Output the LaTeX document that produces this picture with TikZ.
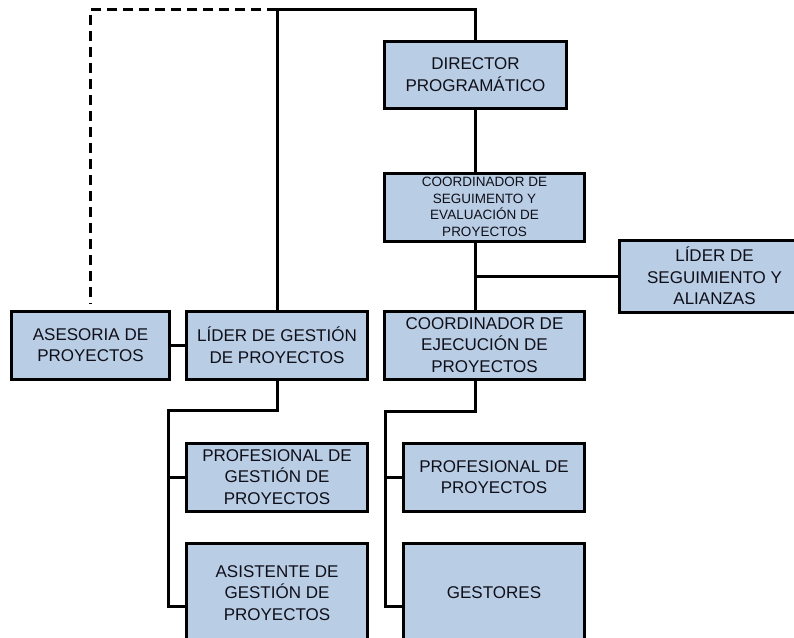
\documentclass[tikz,border=0pt]{standalone}
\usepackage{fontspec}
\setmainfont{Liberation Sans}
\definecolor{boxblue}{RGB}{185,205,229}
\definecolor{boxtext}{RGB}{15,15,25}

\begin{document}
\begin{tikzpicture}[x=1pt,y=-1pt,line width=3pt,
  cargo/.style={draw,fill=boxblue,text=boxtext,align=center,inner sep=0pt,
    font=\fontsize{17}{21.5}\selectfont},
  cargochico/.style={cargo,font=\fontsize{13.5}{16.5}\selectfont}]

\useasboundingbox (0,0) rectangle (794,637);
\clip (0,0) rectangle (794,637);

\node[cargo,minimum width=182,minimum height=67] (dir) at (475.5,74.5) {DIRECTOR\\PROGRAMÁTICO};
\node[cargochico,minimum width=200,minimum height=68] (cseg) at (484.5,207) {COORDINADOR DE\\SEGUIMENTO Y\\EVALUACIÓN DE\\PROYECTOS};
\node[cargo,minimum width=191,minimum height=72] (lseg) at (714.5,276) {LÍDER DE\\SEGUIMIENTO Y\\ALIANZAS};

\node[cargo,minimum width=158,minimum height=68] (ases) at (90.5,345) {ASESORIA DE\\PROYECTOS};
\node[cargo,minimum width=181,minimum height=68] (lgest) at (277,345) {LÍDER DE GESTIÓN\\DE PROYECTOS};
\node[cargo,minimum width=200,minimum height=68] (cejec) at (484.5,345) {COORDINADOR DE\\EJECUCIÓN DE\\PROYECTOS};

\node[cargo,minimum width=181,minimum height=68] (profg) at (277,477) {PROFESIONAL DE\\GESTIÓN DE\\PROYECTOS};
\node[cargo,minimum width=181,minimum height=100] (asist) at (277,593) {ASISTENTE DE\\GESTIÓN DE\\PROYECTOS};
\node[cargo,minimum width=181,minimum height=68] (profp) at (494,477) {PROFESIONAL DE\\PROYECTOS};
\node[cargo,minimum width=181,minimum height=100] (gest) at (494,593) {GESTORES};

\draw (dir.north) -- (dir.north |- 0,9) -| (lgest.north);
\draw[dash pattern=on 10pt off 6pt,shorten >=6pt] (lgest.north |- 0,9) -| (ases.north);

\draw (dir.south) -- (dir.south |- cseg.north);
\draw (dir.south |- cseg.south) -- (dir.south |- cejec.north);
\draw (dir.south |- lseg.west) -- (lseg.west);
\draw (ases.east) -- (lgest.west);

\coordinate (bizq) at (168,410);
\draw (lgest.south) |- (bizq) |- (asist.west |- 0,606);
\draw (bizq |- profg.west) -- (profg.west);

\coordinate (bder) at (385,411);
\draw (dir.south |- cejec.south) |- (bder) |- (gest.west |- 0,606);
\draw (bder |- profp.west) -- (profp.west);

\end{tikzpicture}
\end{document}
